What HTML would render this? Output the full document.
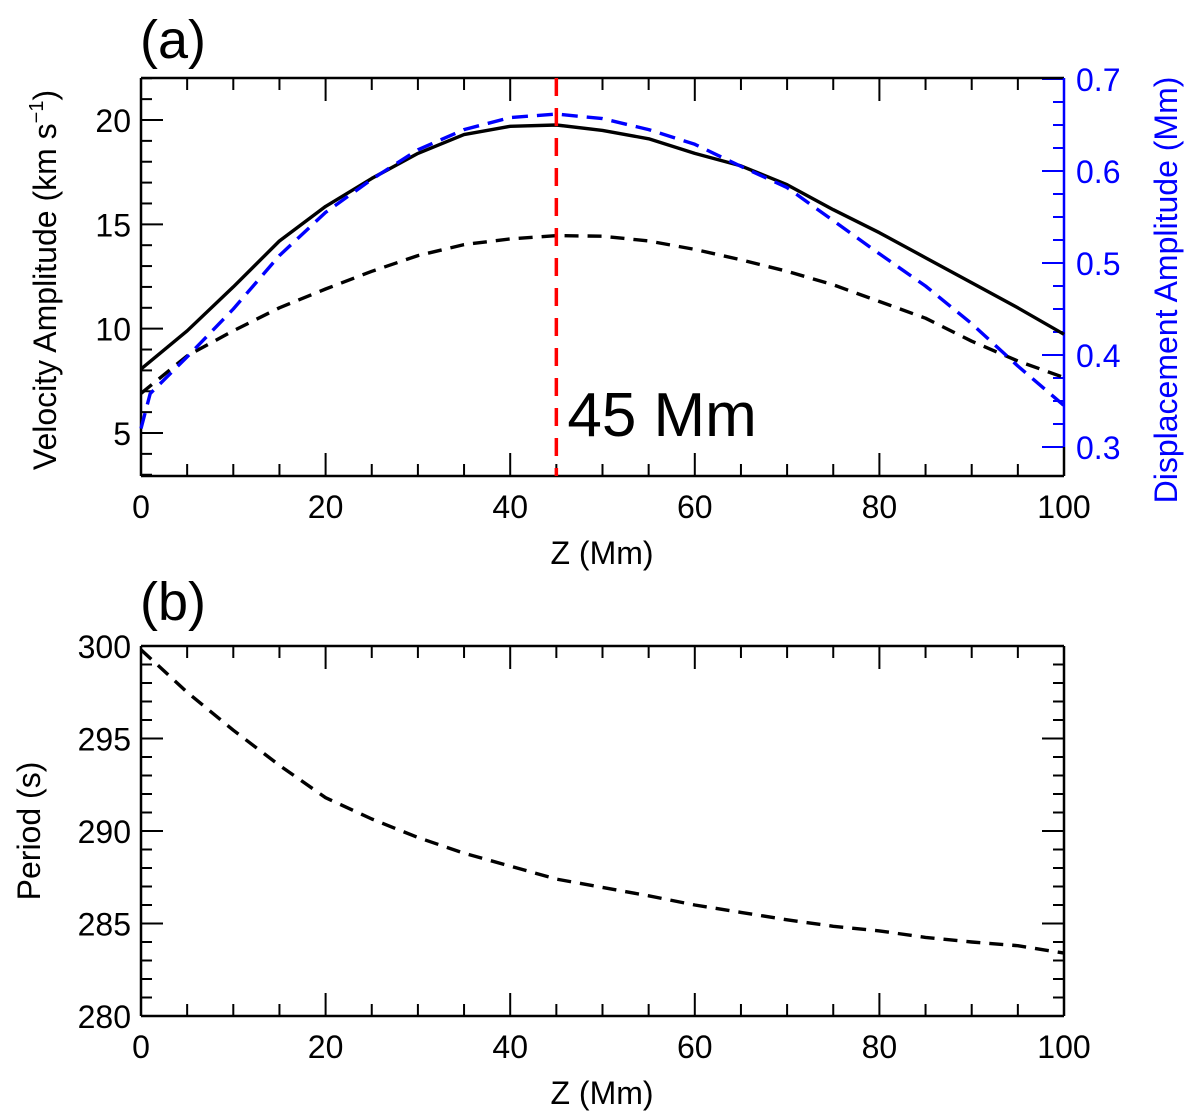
<!DOCTYPE html>
<html><head><meta charset="utf-8"><style>
html,body{margin:0;padding:0;background:#fff}
svg{display:block;font-family:"Liberation Sans",Arial,sans-serif}
</style></head><body>
<svg id="fig" width="1200" height="1119" viewBox="0 0 1200 1119"></svg>
<script>
const zA=[0,5,10,15,20,25,30,35,40,45,50,55,60,65,70,75,80,85,90,95,100];
const velSolid=[8.06,9.9,12.0,14.2,15.86,17.2,18.4,19.3,19.7,19.76,19.5,19.1,18.4,17.8,16.9,15.7,14.6,13.4,12.2,11.0,9.73];
const velDashed=[6.9,8.7,9.9,11.0,11.9,12.75,13.5,14.03,14.3,14.46,14.43,14.2,13.8,13.3,12.75,12.1,11.3,10.5,9.4,8.45,7.66];
const zBlue=[0,1,5,10,15,20,25,30,35,40,45,50,55,60,65,70,75,80,85,90,95,100];
const dispBlue=[0.32,0.358,0.398,0.45,0.508,0.555,0.591,0.623,0.645,0.658,0.662,0.657,0.645,0.629,0.605,0.582,0.546,0.51,0.475,0.434,0.388,0.345];
const zB=[0,5,10,15,20,25,30,35,40,45,50,55,60,65,70,75,80,85,90,95,100];
const period=[299.8,297.5,295.45,293.55,291.8,290.65,289.65,288.8,288.1,287.4,286.95,286.5,286.0,285.6,285.2,284.85,284.6,284.25,284.0,283.8,283.4];
const xTicks=[0,20,40,60,80,100];
const vTicks=[5,10,15,20];
const dTicks=[0.3,0.4,0.5,0.6,0.7];
const pTicks=[280,285,290,295,300];
const peakZ=45;

const NS="http://www.w3.org/2000/svg";
const svg=document.getElementById('fig');
function el(tag,attrs,parent){const e=document.createElementNS(NS,tag);for(const k in attrs)e.setAttribute(k,attrs[k]);(parent||svg).appendChild(e);return e;}
function txt(s,attrs,parent){const t=el('text',attrs,parent);t.textContent=s;return t;}

const X0=141,X1=1064;
const xs=z=>X0+(z/100)*(X1-X0);
const A_T=78,A_B=476;
const yv=v=>433-(v-5)*(313/15);
const yd=d=>447-(d-0.3)*920;
const B_T=646,B_B=1016;
const yp=p=>B_B-(p-280)*((B_B-B_T)/20);
const FS=32;

function line(x1,y1,x2,y2,stroke,w,name){const l=el('line',{x1,y1,x2,y2,stroke,'stroke-width':w});

return l;}
function path(xsArr,ysArr,fx,fy,stroke,dash,name){
 let d='';xsArr.forEach((z,i)=>{d+=(i?'L':'M')+fx(z).toFixed(1)+','+fy(ysArr[i]).toFixed(1);});
 const p=el('path',{d,fill:'none',stroke,'stroke-width':3.4,'stroke-linejoin':'round'});
 if(dash)p.setAttribute('stroke-dasharray',dash);
 
 
}

for(let z=0;z<=100;z+=5){const maj=z%20===0;const L=maj?23:12;
 line(xs(z),A_B,xs(z),A_B-L,'#000',2,'x-tick-a');line(xs(z),A_T,xs(z),A_T+L,'#000',2,'x-tick-top-a');}
for(let v=3;v<=22;v++){const maj=v%5===0;const L=maj?22:11;line(X0,yv(v),X0+L,yv(v),'#000',2,'y-tick-a');}
for(let k=0;k<=16;k++){const d=0.3+k*0.025;const maj=k%4===0;const L=maj?22:11;line(X1,yd(d),X1-L,yd(d),'#00f',2,'right-tick-a');}
line(X0,A_T,X1,A_T,'#000',2.5,'top-spine-a');
line(X0,A_B,X1,A_B,'#000',2.5,'bottom-spine-a');
line(X0,A_T,X0,A_B,'#000',2.5,'left-spine-a');
line(X1,A_T,X1,yd(0.3),'#00f',2.5,'right-spine-a');
line(X1,yd(0.3),X1,A_B,'#000',2.5,'right-spine-lower-a');
xTicks.forEach(z=>{const t=txt(String(z),{x:xs(z),y:A_B+42,'text-anchor':'middle','font-size':FS});});
vTicks.forEach(v=>{const t=txt(String(v),{x:X0-10,y:yv(v)+12,'text-anchor':'end','font-size':FS});});
dTicks.forEach(d=>{const t=txt(d.toFixed(1),{x:X1+12,y:yd(d)+12,'font-size':FS,fill:'#00f'});});

path(zA,velSolid,xs,yv,'#000',null,'velocity-solid-line');
path(zA,velDashed,xs,yv,'#000','14,9','velocity-dashed-line');
path(zBlue,dispBlue,xs,yd,'#00f','16,9','displacement-line');
const red=line(xs(peakZ),A_T,xs(peakZ),A_B,'#f00',3.5,'peak-marker-line');red.setAttribute('stroke-dasharray','18,12');
const lab=txt('45 Mm',{x:xs(peakZ)+11,y:436,'font-size':62});

let t;
t=txt('(a)',{x:140,y:58,'font-size':54});
t=txt('Z (Mm)',{x:602,y:564,'text-anchor':'middle','font-size':FS});
t=el('text',{x:0,y:0,'text-anchor':'middle','font-size':FS,transform:'translate(56,280) rotate(-90)'});
t.innerHTML='Velocity Amplitude (km s<tspan dy="-13" font-size="20">−1</tspan><tspan dy="13">)</tspan>';

t=txt('Displacement Amplitude (Mm)',{x:0,y:0,'text-anchor':'middle','font-size':FS,fill:'#00f',transform:'translate(1177,290) rotate(-90)'});


for(let z=0;z<=100;z+=5){const maj=z%20===0;const L=maj?23:12;
 line(xs(z),B_B,xs(z),B_B-L,'#000',2,'x-tick-b');line(xs(z),B_T,xs(z),B_T+L,'#000',2,'x-tick-top-b');}
for(let p=280;p<=300;p++){const maj=p%5===0;const L=maj?22:11;line(X0,yp(p),X0+L,yp(p),'#000',2,'y-tick-b');line(X1,yp(p),X1-L,yp(p),'#000',2,'y-tick-right-b');}
line(X0,B_T,X1,B_T,'#000',2.5,'top-spine-b');
line(X0,B_B,X1,B_B,'#000',2.5,'bottom-spine-b');
line(X0,B_T,X0,B_B,'#000',2.5,'left-spine-b');
line(X1,B_T,X1,B_B,'#000',2.5,'right-spine-b');
xTicks.forEach(z=>{const t=txt(String(z),{x:xs(z),y:B_B+42,'text-anchor':'middle','font-size':FS});});
pTicks.forEach(p=>{const t=txt(String(p),{x:X0-10,y:yp(p)+12,'text-anchor':'end','font-size':FS});});
path(zB,period,xs,yp,'#000','14,9','period-line');
t=txt('(b)',{x:140,y:620,'font-size':54});
t=txt('Z (Mm)',{x:602,y:1104,'text-anchor':'middle','font-size':FS});
t=txt('Period (s)',{x:0,y:0,'text-anchor':'middle','font-size':FS,transform:'translate(40,831) rotate(-90)'});
</script>
</body></html>
